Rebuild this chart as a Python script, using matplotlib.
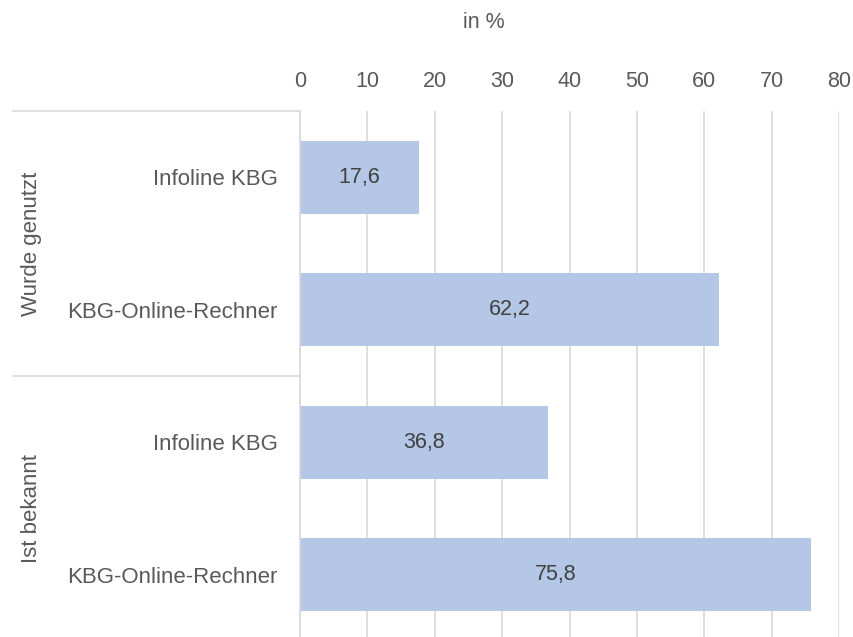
import matplotlib
matplotlib.use("Agg")
import matplotlib.pyplot as plt
from matplotlib import transforms

plt.rcParams['font.family'] = ['Liberation Sans', 'DejaVu Sans']

# Data
groups = ["Wurde genutzt", "Ist bekannt"]
categories = ["Infoline KBG", "KBG-Online-Rechner", "Infoline KBG", "KBG-Online-Rechner"]
values = [17.6, 62.2, 36.8, 75.8]
x_ticks = [0, 10, 20, 30, 40, 50, 60, 70, 80]
axis_title = "in %"

W, H = 854, 637
text_col = "#595959"
value_col = "#404040"
bar_col = "#B4C7E7"
grid_col = "#D9D9D9"

fig = plt.figure(figsize=(W / 100, H / 100), dpi=100)
ax = fig.add_axes([300 / W, -4 / H, 539 / W, 530 / H])

pos = list(range(len(values)))
ax.barh(pos, values, height=0.55, color=bar_col, zorder=2)
for p, v in zip(pos, values):
    ax.text(v / 2, p, f"{v:.1f}".replace(".", ","), ha="center", va="center",
            fontsize=15.5, color=value_col, zorder=3)

ax.set_xlim(0, 80)
ax.set_ylim(len(values) - 0.5, -0.5)
ax.set_xticks(x_ticks)
ax.set_xticklabels([str(t) for t in x_ticks])
ax.xaxis.tick_top()
ax.tick_params(axis="x", length=0, pad=14, labelsize=15.5, labelcolor=text_col)
ax.set_yticks(pos)
ax.set_yticklabels(categories)
ax.tick_params(axis="y", length=0, pad=16, labelsize=16, labelcolor=text_col)

ax.grid(axis="x", color=grid_col, linewidth=1.2, zorder=0)
ax.set_axisbelow(True)
for s in ["top", "right", "bottom"]:
    ax.spines[s].set_visible(False)
ax.spines["left"].set_color(grid_col)
ax.spines["left"].set_linewidth(1.2)

# Group separators and group labels to the left of the axis
trans = transforms.blended_transform_factory(fig.transFigure, ax.transData)
for yb in [-0.5, 1.5, 3.5]:
    ax.plot([13 / W, 300 / W], [yb, yb], color=grid_col, linewidth=1.2,
            transform=trans, clip_on=False)
for i, g in enumerate(groups):
    ax.text(32 / W, 2 * i + 0.5, g, rotation=90, ha="center", va="center",
            fontsize=16, color=text_col, transform=trans)

fig.text(484 / W, 1 - 22 / H, axis_title, ha="center", va="center",
         fontsize=15.5, color=text_col)

fig.savefig("out.png", dpi=100)
